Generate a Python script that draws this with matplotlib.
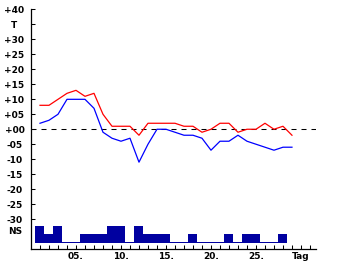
import numpy as np
import matplotlib
matplotlib.use('Agg')
import matplotlib.pyplot as plt

# Tageswerte (Temperatur max / min)
days = np.arange(1, 30)
t_max = [8, 8, 10, 12, 13, 11, 12, 5, 1, 1, 1, -2, 2, 2, 2, 2, 1, 1, -1, 0,
         2, 2, -1, 0, 0, 2, 0, 1, -2]
t_min = [2, 3, 5, 10, 10, 10, 7, -1, -3, -4, -3, -11, -5, 0, 0, -1, -2, -2, -3, -7,
         -4, -4, -2, -4, -5, -6, -7, -6, -6]

# Niederschlag (Klasse 0/1/2)
ns_days = np.arange(1, 29)
ns_class = [2, 1, 2, 0, 0, 1, 1, 1, 2, 2, 0, 2, 1, 1, 1, 0, 0, 1, 0, 0,
            0, 1, 0, 1, 1, 0, 0, 1]

y_ticks = list(range(-30, 45, 5))
y_labels = ['T' if v == 35 else f'{v:+03d}' for v in y_ticks]
x_ticks = list(range(1, 32))
x_names = {5: '05.', 10: '10.', 15: '15.', 20: '20.', 25: '25.', 30: 'Tag'}
x_labels = [x_names.get(d, '') for d in x_ticks]

plt.rcParams['font.family'] = 'DejaVu Sans'
plt.rcParams['font.weight'] = 'bold'
plt.rcParams['font.size'] = 6.5

W, H = 340, 265
fig = plt.figure(figsize=(W / 100, H / 100), dpi=100)
ax = fig.add_axes([31 / W, 16 / H, 285 / W, 239.5 / H])
ax.set_xlim(0, 31.67)
ax.set_ylim(-40, 40)

ax.spines['top'].set_visible(False)
ax.spines['right'].set_visible(False)
ax.spines['left'].set_linewidth(0.9)
ax.spines['bottom'].set_linewidth(0.9)

# Niederschlagsbalken
heights = np.array(ns_class) * 8 / 3 + 1 / 3
ax.bar(ns_days, heights, width=1.0, bottom=-38, color='#0000a0', linewidth=0)

# Nulllinie
ax.axhline(0, color='black', lw=0.75, linestyle=(0, (4.8, 4.8)))

ax.plot(days, t_max, color='#ff0000', lw=0.9)
ax.plot(days, t_min, color='#0000ff', lw=0.9)

ax.set_yticks(y_ticks)
ax.set_yticklabels(y_labels, ha='center')
ax.set_xticks(x_ticks)
ax.set_xticklabels(x_labels)
ax.tick_params(axis='y', direction='in', length=3, width=0.75, pad=11.9)
ax.tick_params(axis='x', direction='in', length=3, width=0.75, pad=2)

ax.annotate('NS', xy=(0, -34), xycoords=ax.get_yaxis_transform(),
            xytext=(-11.2, 0), textcoords='offset points',
            ha='center', va='center', fontweight='bold')

fig.savefig('out.png', dpi=100)
